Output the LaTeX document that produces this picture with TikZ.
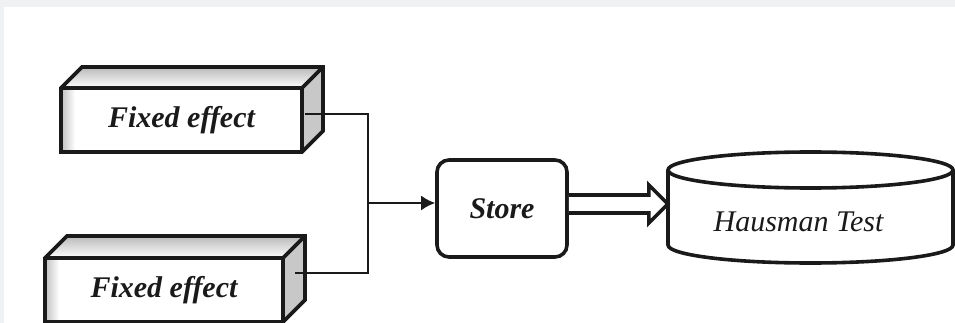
\documentclass[tikz,border=0pt]{standalone}
\usepackage{fontspec}
\setmainfont{Liberation Serif}
\usetikzlibrary{calc,arrows.meta}
\definecolor{bggray}{HTML}{F0F1F3}
\definecolor{sidegray}{HTML}{C8C8C8}
\definecolor{ink}{HTML}{1A1A1A}
\newcommand\effectbox[6]{%
  % #1 name, #2 left, #3 top, #4 right, #5 bottom, #6 depth
  \fill[white] (#2,#3) rectangle (#4,#5);
  \shade[left color=gray!50, right color=white] (#2,#3) rectangle ({#2+14},#5);
  \shade[top color=gray!55, bottom color=white] (#2,#3) -- ({#2+#6},{#3-#6}) -- ({#4+#6},{#3-#6}) -- (#4,#3) -- cycle;
  \fill[sidegray] (#4,#3) -- ({#4+#6},{#3-#6}) -- ({#4+#6},{#5-#6}) -- (#4,#5) -- cycle;
  \draw[boxline] (#2,#3) -- ({#2+#6},{#3-#6}) -- ({#4+#6},{#3-#6}) -- ({#4+#6},{#5-#6}) -- (#4,#5) -- (#2,#5) -- cycle;
  \draw[boxline] (#2,#3) -- (#4,#3) -- ({#4+#6},{#3-#6});
  \draw[boxline] (#4,#3) -- (#4,#5);
  \node[lbl, minimum width={(#4-#2)*1pt}, minimum height={(#5-#3)*1pt}] (#1) at ({(#2+#4)/2},{(#3+#5)/2}) {Fixed effect};
}
\begin{document}
\begin{tikzpicture}[x=1pt,y=-1pt,
  boxline/.style={line width=3.6pt, line join=miter, draw=ink},
  conn/.style={line width=2.2pt, draw=ink},
  lbl/.style={font=\fontsize{30}{36}\selectfont\bfseries\itshape, inner sep=0pt, text=ink},
  lblit/.style={font=\fontsize{30}{36}\selectfont\itshape, inner sep=0pt, text=ink}]
\useasboundingbox (0,0) rectangle (955,323);
\fill[bggray] (0,0) rectangle (955,323);
\fill[white] (4,7) rectangle (955,323);

\effectbox{fe1}{61}{88}{302}{152}{21}
\effectbox{fe2}{45}{258}{283}{322}{22}

\node[draw=ink, line width=3.6pt, rounded corners=12pt, minimum width=130pt, minimum height=97pt, lbl] (store) at (502,208.5) {Store};

% cylinder
\draw[draw=ink, line width=3.6pt, fill=white] (668,170) -- (668,245) arc[start angle=180, end angle=0, x radius=142.5, y radius=18] -- (953,170);
\draw[draw=ink, line width=3.6pt, fill=white] (810.5,170) ellipse[x radius=142.5, y radius=18];
\node[minimum width=285pt, minimum height=75pt, inner sep=0pt] (cyl) at (810.5,207.5) {};
\node[lblit] (haus) at (798.5,222) {Hausman Test};

% connectors
\coordinate (j) at (368,203);
\draw[conn] ($(fe1.north east)+(3,26)$) -| (j);
\draw[conn] ($(fe2.north east)+(12,15)$) -| (j);
\draw[conn, -{Latex[length=14pt,width=15pt]}] (j) -- (store.west |- j);

% double arrow
\path ($(store.east)+(0,-4.5)$) coordinate (da);
\path (da -| cyl.west) coordinate (db);
\draw[draw=ink, line width=3.6pt, line join=miter, fill=white] ($(da)+(0,-9)$) -- ($(db)+(-19,-9)$) -- ($(db)+(-19,-19)$) -- (db) -- ($(db)+(-19,19)$) -- ($(db)+(-19,9)$) -- ($(da)+(0,9)$);
\end{tikzpicture}
\end{document}
